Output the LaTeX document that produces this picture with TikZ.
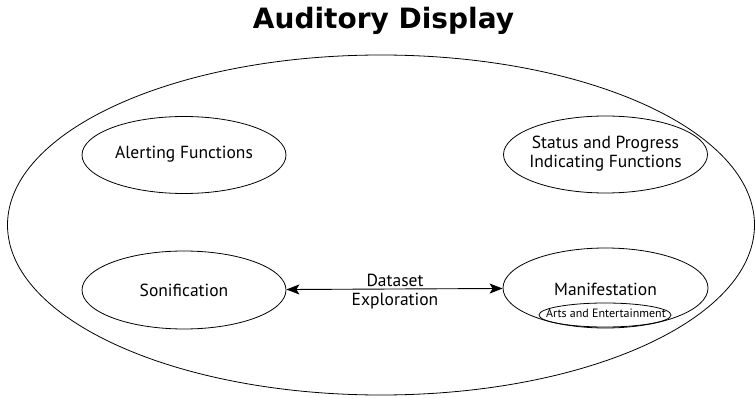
\documentclass[tikz,border=0pt]{standalone}
\usepackage{fontspec}
\setmainfont{PT Sans}
\newfontfamily\titlefont{DejaVu Sans}
\usetikzlibrary{shapes.geometric,arrows.meta}
\begin{document}
\begin{tikzpicture}[x=1pt,y=-1pt,
  txt/.style={font=\fontsize{17.5}{19}\selectfont,inner sep=0pt,anchor=base},
  oval/.style={draw,line width=0.8pt,ellipse,minimum width=204pt,minimum height=77pt,inner sep=0pt},
  link/.style={line width=0.9pt,{Stealth[length=13pt,width=10pt,inset=3pt]}-{Stealth[length=13pt,width=10pt,inset=3pt]}}]
\useasboundingbox (0,0) rectangle (755,398);
\node[font=\titlefont\bfseries\fontsize{28}{32}\selectfont,anchor=base,inner sep=0pt] (title) at (383.5,28.5) {Auditory Display};
\draw[line width=0.8pt] (381,225) ellipse [x radius=373.5, y radius=170];
\node[oval] (alert) at (184,155) {};
\node[txt] (alerttext) at (184,159) {Alerting Functions};
\node[oval] (status) at (605.5,154.5) {};
\node[txt] (status1) at (605.5,148.7) {Status and Progress};
\node[txt] (status2) at (605.5,167.2) {Indicating Functions};
\node[oval,minimum height=78pt] (son) at (184,290) {};
\node[txt] (sontext) at (184,296) {Sonification};
\node[oval,minimum width=205pt,minimum height=80pt] (man) at (605.5,288) {};
\node[txt] (mantext) at (605.5,295) {Manifestation};
\node[draw,line width=0.8pt,ellipse,minimum width=132pt,minimum height=24pt,inner sep=0pt] (arts) at (605,315) {};
\node[font=\fontsize{12}{14}\selectfont,anchor=base,inner sep=0pt] (artstext) at (606,317.5) {Arts and Entertainment};
\draw[link] (son) -- (man);
\node[txt] (lbl1) at (395,286) {Dataset};
\node[txt] (lbl2) at (395,305) {Exploration};
\end{tikzpicture}
\end{document}
